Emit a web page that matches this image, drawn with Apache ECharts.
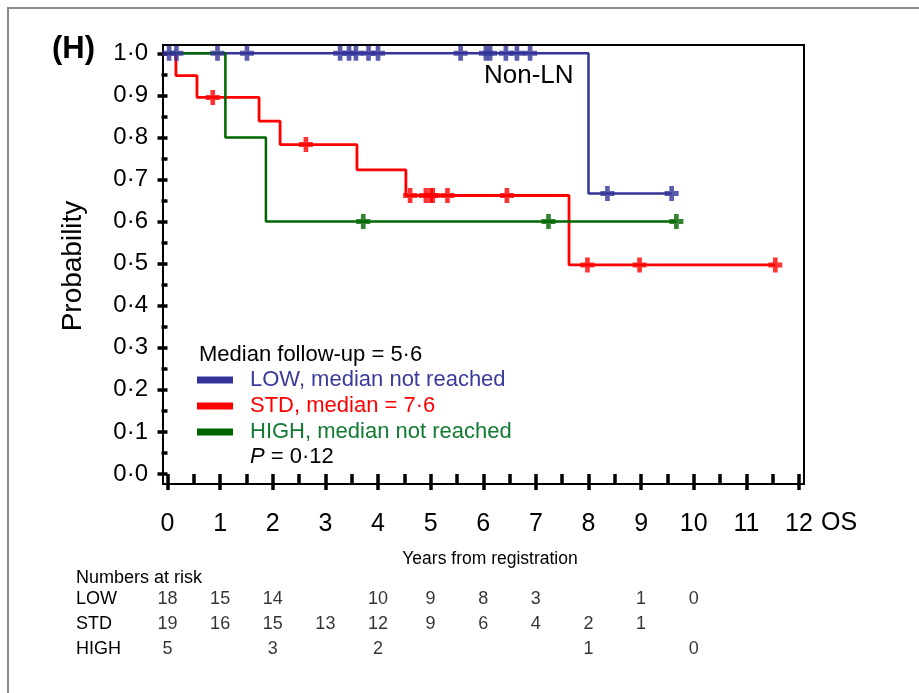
<!DOCTYPE html>
<html>
<head>
<meta charset="utf-8">
<script src="https://cdn.jsdelivr.net/npm/echarts@6/dist/echarts.min.js"></script>
<style>
html,body{margin:0;padding:0;background:#fff;}
#chart{width:919px;height:693px;}
</style>
</head>
<body>
<div id="chart"></div>
<script>
// ---------- data ----------
const xTicks = [0,1,2,3,4,5,6,7,8,9,10,11,12];
const yTickLabels = ['0·0','0·1','0·2','0·3','0·4','0·5','0·6','0·7','0·8','0·9','1·0'];

// Kaplan-Meier step points (time in years, survival probability)
const lowTimes  = [0, 8.00, 9.58];
const lowSurv   = [1.0, 0.667, 0.667];
const stdTimes  = [0, 0.16, 0.56, 1.74, 2.14, 3.60, 4.53, 7.63, 11.55];
const stdSurv   = [1.0, 0.947, 0.895, 0.839, 0.783, 0.723, 0.662, 0.497, 0.497];
const highTimes = [0, 1.10, 1.87, 9.67];
const highSurv  = [1.0, 0.8, 0.6, 0.6];

// censoring times
const lowCensor  = [0.03, 0.17, 0.95, 1.51, 3.28, 3.45, 3.58, 3.82, 4.00, 5.57, 6.05, 6.13, 6.43, 6.64, 6.89, 8.36, 9.58];
const stdCensor  = [0.86, 2.63, 4.61, 4.91, 5.00, 5.04, 5.32, 6.45, 7.98, 8.97, 11.55];
const highCensor = [3.72, 7.24, 9.67];

// numbers at risk
const riskYears = [0,1,2,3,4,5,6,7,8,9,10];
const riskGroups = ['LOW','STD','HIGH'];
const lowRisk  = [18,15,14,null,10,9,8,3,null,1,0];
const stdRisk  = [19,16,15,13,12,9,6,4,2,1,null];
const highRisk = [5,null,3,null,2,null,null,null,1,null,0];

const groupNames = ['LOW, median not reached','STD, median = 7·6','HIGH, median not reached'];

// ---------- styling ----------
const BLUE = '#333399', RED = '#ff0000', GREEN = '#006600';
const FONT = '"Liberation Sans", Arial, sans-serif';
const PLUS = 'path://M4,0H8V4H12V8H8V12H4V8H0V4H4Z';

function stepData(t, s){ return t.map((v,i)=>[v, s[i]]); }
function survAt(t, s, x){ let v = s[0]; for(let i=0;i<t.length;i++){ if(t[i] <= x) v = s[i]; } return v; }
function censorData(c, t, s){ return c.map(x => [x, survAt(t, s, x)]); }
function riskData(arr, g){ const out=[]; arr.forEach((v,i)=>{ if(v!==null) out.push([riskYears[i], g, v]); }); return out; }

const G = {left:167.5, top:53.3, width:631.5, height:420.7};

const chart = echarts.init(document.getElementById('chart'), null, {renderer:'canvas'});
chart.setOption({
  animation:false,
  backgroundColor:'#fff',
  grid:[
    {left:G.left, top:G.top, width:G.width, height:G.height},
    {left:163, top:45, width:641, height:439, show:true, borderColor:'#000', borderWidth:2, backgroundColor:'transparent'},
    {left:G.left, top:586.5, width:G.width, height:75}
  ],
  xAxis:[
    {gridIndex:0, type:'value', min:0, max:12, interval:1, offset:10,
     axisLine:{show:false},
     axisTick:{show:true, inside:false, length:16, lineStyle:{color:'#000', width:3.5}},
     minorTick:{show:true, splitNumber:2, length:9, lineStyle:{color:'#000', width:3.5}},
     splitLine:{show:false},
     axisLabel:{show:true, margin:28, fontSize:25, fontFamily:FONT, color:'#000',
       formatter:(v)=> String(xTicks[Math.round(v)])}},
    {gridIndex:1, type:'value', min:0, max:1, show:false},
    {gridIndex:2, type:'value', min:0, max:12, show:false}
  ],
  yAxis:[
    {gridIndex:0, type:'value', min:0, max:1, interval:0.1, offset:4.5,
     axisLine:{show:false},
     axisTick:{show:true, inside:false, length:10, lineStyle:{color:'#000', width:3.5}},
     minorTick:{show:true, splitNumber:2, length:6, lineStyle:{color:'#000', width:3.5}},
     splitLine:{show:false},
     axisLabel:{show:true, margin:15, fontSize:24, fontFamily:FONT, color:'#000',
       formatter:(v)=> yTickLabels[Math.round(v*10)]}},
    {gridIndex:1, type:'value', min:0, max:1, show:false},
    {gridIndex:2, type:'category', data:riskGroups, inverse:true,
     axisLine:{show:false}, axisTick:{show:false}, splitLine:{show:false},
     axisLabel:{show:true, align:'left', margin:91.5, fontSize:18, fontFamily:FONT, color:'#000', padding:[0,0,4,0]}}
  ],
  legend:{
    show:true, orient:'vertical', left:192, top:364, itemWidth:36, itemHeight:7, itemGap:4,
    selectedMode:false, icon:'rect',
    textStyle:{fontSize:22, fontFamily:FONT, lineHeight:22, padding:[0,0,0,12]},
    data:[
      {name:groupNames[0], textStyle:{color:'#3b3b9c'}},
      {name:groupNames[1], textStyle:{color:RED}},
      {name:groupNames[2], textStyle:{color:'#127a32'}}
    ]
  },
  series:[
    {name:groupNames[1], type:'line', step:'end', data:stepData(stdTimes, stdSurv), symbol:'none', clip:false,
     itemStyle:{color:RED}, lineStyle:{color:RED, width:2.8}, z:3},
    {name:groupNames[0], type:'line', step:'end', data:stepData(lowTimes, lowSurv), symbol:'none', clip:false,
     itemStyle:{color:BLUE}, lineStyle:{color:BLUE, width:2.5}, z:3},
    {name:groupNames[2], type:'line', step:'end', data:stepData(highTimes, highSurv), symbol:'none', clip:false,
     itemStyle:{color:GREEN}, lineStyle:{color:GREEN, width:2.5}, z:4},
    {name:'STD censored', type:'scatter', data:censorData(stdCensor, stdTimes, stdSurv), symbol:PLUS, symbolSize:[14,15], clip:false,
     itemStyle:{color:RED}, z:5},
    {name:'HIGH censored', type:'scatter', data:censorData(highCensor, highTimes, highSurv), symbol:PLUS, symbolSize:[14,15], clip:false,
     itemStyle:{color:GREEN}, z:5},
    {name:'LOW censored', type:'scatter', data:censorData(lowCensor, lowTimes, lowSurv), symbol:PLUS, symbolSize:[14,15], clip:false,
     itemStyle:{color:BLUE}, z:6},
    {name:'risk', type:'scatter', xAxisIndex:2, yAxisIndex:2, symbolSize:0, silent:true,
     data:[].concat(riskData(lowRisk,'LOW'), riskData(stdRisk,'STD'), riskData(highRisk,'HIGH')),
     label:{show:true, position:'inside', formatter:(p)=> String(p.value[2]), fontSize:18, fontFamily:FONT, color:'#000'}}
  ],
  graphic:[
    {type:'rect', shape:{x:8, y:8, width:940, height:720}, style:{fill:'none', stroke:'#8a8a8a', lineWidth:2}, silent:true},
    {type:'text', left:52, top:34, style:{text:'(H)', font:'bold 31px "Liberation Sans", Arial, sans-serif', fill:'#000'}},
    {type:'text', left:484, top:63, style:{text:'Non-LN', font:'26px "Liberation Sans", Arial, sans-serif', fill:'#000'}},
    {type:'text', x:73, y:266, rotation:Math.PI/2, style:{text:'Probability', font:'28px "Liberation Sans", Arial, sans-serif', fill:'#000', align:'center', verticalAlign:'middle'}},
    {type:'text', left:199, top:344, style:{text:'Median follow-up = 5·6', font:'22px "Liberation Sans", Arial, sans-serif', fill:'#000'}},
    {type:'text', left:250, top:446, style:{text:'{i|P} = 0·12', font:'22px "Liberation Sans", Arial, sans-serif', fill:'#000',
      rich:{i:{fontStyle:'italic', fontSize:22, fontFamily:FONT, fill:'#000'}}}},
    {type:'text', left:821, top:511, style:{text:'OS', font:'25px "Liberation Sans", Arial, sans-serif', fill:'#000'}},
    {type:'text', x:490, y:559, style:{text:'Years from registration', font:'17.5px "Liberation Sans", Arial, sans-serif', fill:'#000', align:'center', verticalAlign:'middle'}},
    {type:'text', left:76, top:569, style:{text:'Numbers at risk', font:'18px "Liberation Sans", Arial, sans-serif', fill:'#000'}}
  ]
});
</script>
</body>
</html>
